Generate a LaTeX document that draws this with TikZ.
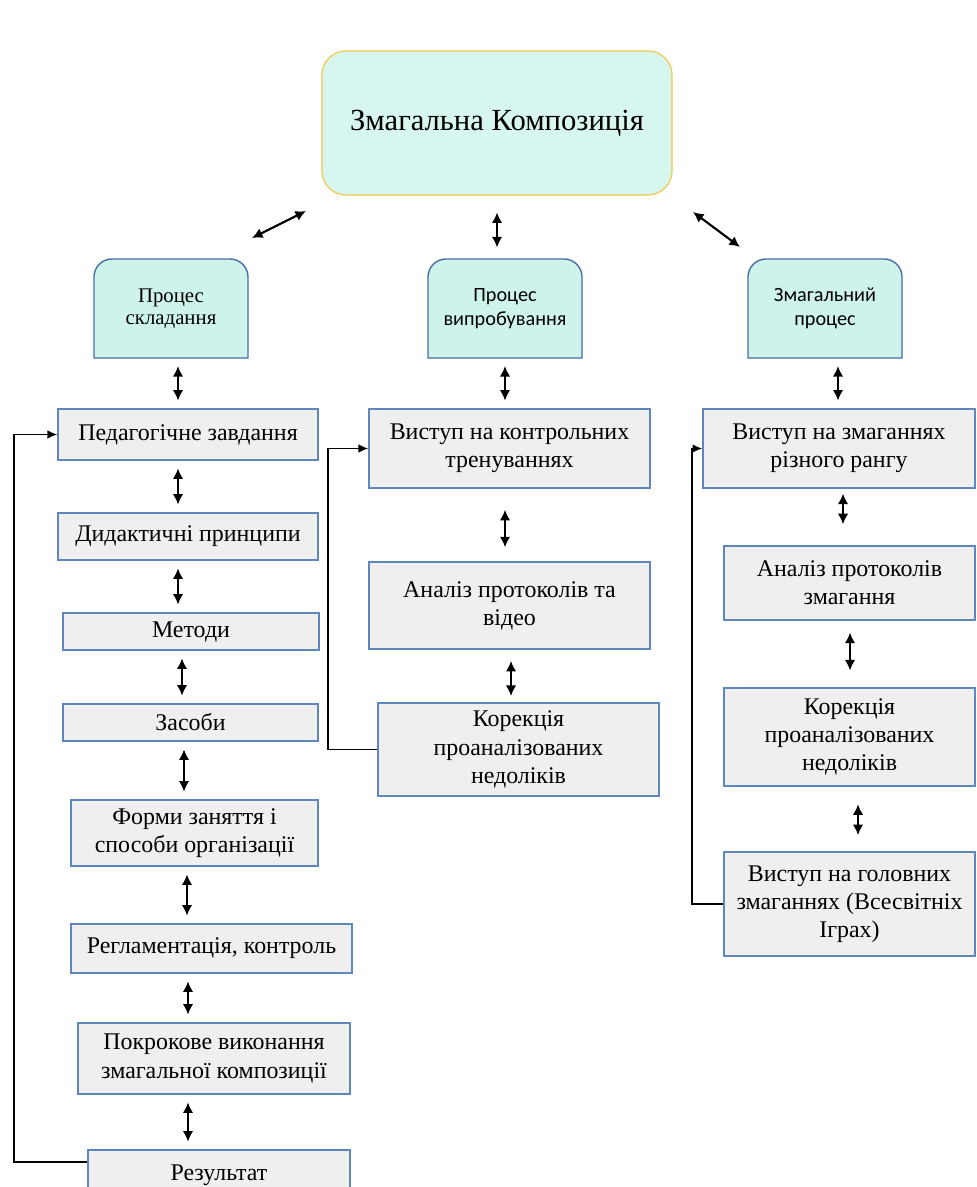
\documentclass[tikz,border=0pt]{standalone}
\usepackage{fontspec}
\setmainfont{Liberation Serif}
\newfontfamily\carl{Carlito}
\usepackage{tikz}
\usetikzlibrary{arrows.meta,calc}
\definecolor{topfill}{HTML}{D7F6EF}
\definecolor{topline}{HTML}{F2C744}
\definecolor{procfill}{HTML}{CDF3EB}
\definecolor{procline}{HTML}{4A6DA8}
\definecolor{boxfill}{HTML}{EFEFEF}
\definecolor{boxline}{HTML}{5D87BD}

\begin{document}
\begin{tikzpicture}[x=0.025cm,y=-0.025cm,
  box/.style={draw=boxline,fill=boxfill,line width=0.9pt,inner sep=2pt,align=center,font=\fontsize{17}{20}\selectfont},
  proc/.style={minimum width=3.85cm,minimum height=2.475cm,align=center},
  dbl/.style={{Latex[length=7.5pt,width=7.5pt]}-{Latex[length=7.5pt,width=7.5pt]},line width=1.5pt,shorten <=5.5pt,shorten >=5.5pt},
  fb/.style={-{Latex[length=7pt,width=6pt]},line width=1.1pt}]
\clip (0,0) rectangle (976,1187);
\fill[white] (0,0) rectangle (976,1187);

\node[draw=topline,fill=topfill,line width=0.8pt,rounded corners=0.6cm,minimum width=8.75cm,minimum height=3.6cm,font=\fontsize{21.8}{26}\selectfont] (top) at (497,123) {Змагальна Композиція};

\foreach \x in {171,505,825}
  \filldraw[draw=procline,fill=procfill,line width=1pt] (\x-77,358) -- (\x-77,277) to[out=90,in=180] (\x-59,259) -- (\x+59,259) to[out=0,in=90] (\x+77,277) -- (\x+77,358) -- cycle;
\node[proc,font=\fontsize{14.8}{16}\selectfont] (skl) at (171,308.5) {Процес\\складання};
\node[proc,font=\carl\fontsize{14.4}{17}\selectfont] (vpr) at (505,308.5) {Процес\\випробування};
\node[proc,font=\carl\fontsize{14.4}{17}\selectfont] (zmp) at (825,308.5) {Змагальний\\процес};

\node[box,minimum width=6.5cm,minimum height=1.275cm] (ped) at (188,434.5) {Педагогічне завдання};
\node[box,minimum width=6.5cm,minimum height=1.175cm] (did) at (188,536.5) {Дидактичні принципи};
\node[box,minimum width=6.4cm,minimum height=0.925cm] (met) at (191,631.5) {Методи};
\node[box,minimum width=6.375cm,minimum height=0.925cm] (zas) at (190.5,722.5) {Засоби};
\node[box,minimum width=6.175cm,minimum height=1.65cm] (form) at (194.5,833) {Форми заняття і\\способи організації};
\node[box,minimum width=7.025cm,minimum height=1.225cm] (reg) at (211.5,948.5) {Регламентація, контроль};
\node[box,minimum width=6.8cm,minimum height=1.775cm] (pok) at (214,1058.5) {Покрокове виконання\\змагальної композиції};
\node[box,minimum width=6.55cm,minimum height=1.25cm] (res) at (219,1175) {Результат};

\node[box,minimum width=7.025cm,minimum height=1.975cm] (vk) at (509.5,448.5) {Виступ на контрольних\\тренуваннях};
\node[box,minimum width=7.025cm,minimum height=2.175cm] (an) at (509.5,605.5) {Аналіз протоколів та\\відео};
\node[box,minimum width=7.025cm,minimum height=2.325cm] (kor) at (518.5,749.5) {Корекція\\проаналізованих\\недоліків};

\node[box,minimum width=6.8cm,minimum height=1.975cm] (vz) at (839,448.5) {Виступ на змаганнях\\різного рангу};
\node[box,minimum width=6.275cm,minimum height=1.85cm] (anz) at (849.5,583) {Аналіз протоколів\\змагання};
\node[box,minimum width=6.275cm,minimum height=2.45cm] (korz) at (849.5,737) {Корекція\\проаналізованих\\недоліків};
\node[box,minimum width=6.275cm,minimum height=2.6cm] (vg) at (849.5,904) {Виступ на головних\\змаганнях (Всесвітніх\\Іграх)};

\coordinate (tl1) at (306,211);
\coordinate (tl2) at (252,238);
\coordinate (tr1) at (693,212);
\coordinate (tr2) at (740,247);
\draw[dbl,shorten <=0pt,shorten >=0pt] (tl1) -- (tl2);
\draw[dbl,shorten <=0pt,shorten >=0pt] (tr1) -- (tr2);
\draw[dbl,shorten <=12pt,shorten >=8pt] (497,0 |- top.south) -- (497,0 |- vpr.north);

\draw[dbl] (178,0 |- skl.south) -- (178,0 |- ped.north);
\draw[dbl] (505,0 |- vpr.south) -- (505,0 |- vk.north);
\draw[dbl] (838,0 |- zmp.south) -- (838,0 |- vz.north);

\draw[dbl] (178,0 |- ped.south) -- (178,0 |- did.north);
\draw[dbl] (178,0 |- did.south) -- (178,0 |- met.north);
\draw[dbl] (182,0 |- met.south) -- (182,0 |- zas.north);
\draw[dbl] (184,0 |- zas.south) -- (184,0 |- form.north);
\draw[dbl] (187,0 |- form.south) -- (187,0 |- reg.north);
\draw[dbl] (188,0 |- reg.south) -- (188,0 |- pok.north);
\draw[dbl] (188,0 |- pok.south) -- (188,0 |- res.north);

\draw[dbl,shorten <=15pt,shorten >=10pt] (505,0 |- vk.south) -- (505,0 |- an.north);
\draw[dbl,shorten <=8pt,shorten >=4.5pt] (511,0 |- an.south) -- (511,0 |- kor.north);

\draw[dbl,shorten <=3.5pt,shorten >=15pt] (843,0 |- vz.south) -- (843,0 |- anz.north);
\draw[dbl,shorten <=8.5pt,shorten >=12pt] (850,0 |- anz.south) -- (850,0 |- korz.north);
\draw[dbl,shorten <=12.5pt,shorten >=11.5pt] (858,0 |- korz.south) -- (858,0 |- vg.north);

\draw[fb] (res.west |- 0,1162) -- (14,1162) |- (ped.west);
\draw[fb] (kor.west) -- (328,0 |- kor.west) |- (vk.west);
\draw[fb] (vg.west) -- (692,0 |- vg.west) |- (vz.west);
\end{tikzpicture}
\end{document}
